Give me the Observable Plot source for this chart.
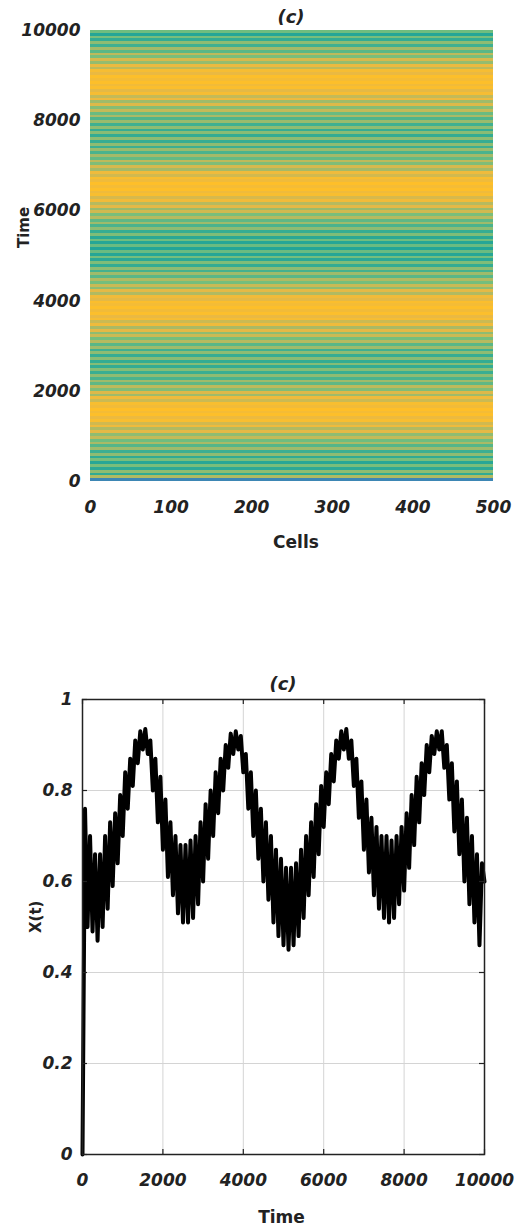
<!DOCTYPE html>
<html>
<head>
<meta charset="utf-8">
<script src="https://cdn.jsdelivr.net/npm/d3@7"></script>
<script src="https://cdn.jsdelivr.net/npm/@observablehq/plot@0.6"></script>
<style>
  html, body { margin: 0; padding: 0; background: #fff; }
  #page { position: relative; width: 515px; height: 1229px; overflow: hidden; background: #fff; }
  #page svg { position: absolute; left: 0; }
  .panel-title {
    position: absolute; width: 80px; text-align: center;
    font: italic bold 18px 'DejaVu Sans', sans-serif; color: #222; line-height: 20px;
  }
</style>
</head>
<body>
<div id="page"></div>
<script>
// Sampled time points of the population trajectory
const time = [
  0, 62.5, 125, 187.5, 250, 312.5, 375, 437.5,
  500, 562.5, 625, 687.5, 750, 812.5, 875, 937.5,
  1000, 1062.5, 1125, 1187.5, 1250, 1312.5, 1375, 1437.5,
  1500, 1562.5, 1625, 1687.5, 1750, 1812.5, 1875, 1937.5,
  2000, 2062.5, 2125, 2187.5, 2250, 2312.5, 2375, 2437.5,
  2500, 2562.5, 2625, 2687.5, 2750, 2812.5, 2875, 2937.5,
  3000, 3062.5, 3125, 3187.5, 3250, 3312.5, 3375, 3437.5,
  3500, 3562.5, 3625, 3687.5, 3750, 3812.5, 3875, 3937.5,
  4000, 4062.5, 4125, 4187.5, 4250, 4312.5, 4375, 4437.5,
  4500, 4562.5, 4625, 4687.5, 4750, 4812.5, 4875, 4937.5,
  5000, 5062.5, 5125, 5187.5, 5250, 5312.5, 5375, 5437.5,
  5500, 5562.5, 5625, 5687.5, 5750, 5812.5, 5875, 5937.5,
  6000, 6062.5, 6125, 6187.5, 6250, 6312.5, 6375, 6437.5,
  6500, 6562.5, 6625, 6687.5, 6750, 6812.5, 6875, 6937.5,
  7000, 7062.5, 7125, 7187.5, 7250, 7312.5, 7375, 7437.5,
  7500, 7562.5, 7625, 7687.5, 7750, 7812.5, 7875, 7937.5,
  8000, 8062.5, 8125, 8187.5, 8250, 8312.5, 8375, 8437.5,
  8500, 8562.5, 8625, 8687.5, 8750, 8812.5, 8875, 8937.5,
  9000, 9062.5, 9125, 9187.5, 9250, 9312.5, 9375, 9437.5,
  9500, 9562.5, 9625, 9687.5, 9750, 9812.5, 9875, 9937.5,
  10000
];

// Mean state X(t) at each sampled time
const xValues = [
  0.00, 0.76, 0.50, 0.70, 0.49, 0.66, 0.47, 0.66,
  0.50, 0.70, 0.54, 0.73, 0.59, 0.75, 0.64, 0.79,
  0.70, 0.84, 0.76, 0.87, 0.81, 0.91, 0.86, 0.93,
  0.89, 0.935, 0.88, 0.91, 0.80, 0.87, 0.73, 0.83,
  0.67, 0.78, 0.61, 0.73, 0.57, 0.70, 0.53, 0.68,
  0.51, 0.68, 0.51, 0.69, 0.52, 0.70, 0.55, 0.73,
  0.60, 0.77, 0.65, 0.80, 0.70, 0.84, 0.75, 0.87,
  0.80, 0.90, 0.85, 0.925, 0.88, 0.93, 0.89, 0.92,
  0.84, 0.88, 0.76, 0.84, 0.70, 0.80, 0.65, 0.76,
  0.60, 0.73, 0.56, 0.70, 0.51, 0.67, 0.48, 0.65,
  0.46, 0.63, 0.45, 0.63, 0.46, 0.64, 0.48, 0.67,
  0.52, 0.70, 0.57, 0.73, 0.61, 0.77, 0.66, 0.81,
  0.72, 0.84, 0.77, 0.88, 0.82, 0.91, 0.87, 0.93,
  0.89, 0.935, 0.87, 0.91, 0.81, 0.87, 0.74, 0.82,
  0.67, 0.78, 0.62, 0.74, 0.57, 0.72, 0.54, 0.70,
  0.52, 0.70, 0.51, 0.69, 0.52, 0.70, 0.55, 0.72,
  0.58, 0.75, 0.63, 0.79, 0.68, 0.83, 0.73, 0.86,
  0.79, 0.90, 0.84, 0.92, 0.88, 0.93, 0.89, 0.93,
  0.85, 0.90, 0.78, 0.86, 0.71, 0.82, 0.66, 0.78,
  0.60, 0.74, 0.55, 0.70, 0.51, 0.66, 0.46, 0.64,
  0.60
];

const cellRange = [0, 500];
const cellTicks = [0, 100, 200, 300, 400, 500];
const timeTicks = [0, 2000, 4000, 6000, 8000, 10000];
const stateTicks = [0, 0.2, 0.4, 0.6, 0.8, 1];
const panelTitle = "(c)";

// Colormap stops for the space-time heatmap
const colorDomain = [0, 0.45, 0.55, 0.65, 0.75, 0.85, 0.93];
const colorRange = ["#3d86b4", "#22a597", "#3fb091", "#74be7d", "#a9ba66", "#eab942", "#fdbf2a"];

const rows = time.slice(0, -1).map((t, i) => ({t0: t, t1: time[i + 1], v: xValues[i]}));
const series = time.map((t, i) => ({t, v: xValues[i]}));

const baseFont = {
  fontFamily: "'DejaVu Sans', sans-serif",
  fontSize: "17px",
  fontWeight: "bold",
  fontStyle: "italic",
  color: "#222",
  background: "transparent",
  overflow: "visible"
};

// Space-time heatmap: every cell shares the same state in each time row
const heat = Plot.plot({
  width: 515,
  height: 560,
  marginTop: 30,
  marginBottom: 79,
  marginLeft: 90,
  marginRight: 22,
  style: baseFont,
  x: {domain: cellRange},
  y: {domain: [timeTicks[0], timeTicks[timeTicks.length - 1]]},
  color: {type: "linear", domain: colorDomain, range: colorRange},
  marks: [
    Plot.rect(rows, {x1: cellRange[0], x2: cellRange[1], y1: "t0", y2: "t1", fill: "v", shapeRendering: "crispEdges"}),
    Plot.axisX(cellTicks, {tickSize: 0, tickPadding: 19, label: null, tickFormat: "d"}),
    Plot.axisY(timeTicks, {tickSize: 0, tickPadding: 10, label: null, tickFormat: "d"}),
    Plot.text(["Cells"], {frameAnchor: "bottom", dy: 66, dx: 4, text: d => d, fontStyle: "normal"}),
    Plot.text(["Time"], {frameAnchor: "left", dx: -66, dy: -8, rotate: -90, text: d => d, fontStyle: "normal", fontSize: 15})
  ]
});
heat.style.top = "0px";

// Time series of X(t)
const frameW = 515 - 82 - 31;
const frameH = 589 - 59 - 75;
const inner = 5;
const line = Plot.plot({
  width: 515,
  height: 589,
  marginTop: 59,
  marginBottom: 75,
  marginLeft: 82,
  marginRight: 31,
  style: baseFont,
  x: {domain: [timeTicks[0], timeTicks[timeTicks.length - 1]]},
  y: {domain: [stateTicks[0], stateTicks[stateTicks.length - 1]]},
  marks: [
    Plot.ruleX(timeTicks, {stroke: "#d4d4d4", strokeWidth: 1}),
    Plot.ruleY(stateTicks, {stroke: "#d4d4d4", strokeWidth: 1}),
    Plot.line(series, {x: "t", y: "v", stroke: "black", strokeWidth: 4, strokeLinejoin: "round"}),
    Plot.frame({stroke: "#222", strokeWidth: 1.5}),
    Plot.ruleX(timeTicks, {stroke: "#222", strokeWidth: 1.2, insetBottom: frameH - inner}),
    Plot.ruleX(timeTicks, {stroke: "#222", strokeWidth: 1.2, insetTop: frameH - inner}),
    Plot.ruleY(stateTicks, {stroke: "#222", strokeWidth: 1.2, insetRight: frameW - inner}),
    Plot.ruleY(stateTicks, {stroke: "#222", strokeWidth: 1.2, insetLeft: frameW - inner}),
    Plot.axisX(timeTicks, {tickSize: 0, tickPadding: 19, label: null, tickFormat: "d"}),
    Plot.axisY(stateTicks, {tickSize: 0, tickPadding: 10, label: null, tickFormat: d => String(d)}),
    Plot.text(["Time"], {frameAnchor: "bottom", dy: 68, dx: -2, text: d => d, fontStyle: "normal"}),
    Plot.text(["X(t)"], {frameAnchor: "left", dx: -46, dy: 6, rotate: -90, text: d => d, fontStyle: "normal", fontSize: 15})
  ]
});
line.style.top = "640px";

const page = document.getElementById("page");
page.appendChild(heat);
page.appendChild(line);

// Panel labels above each plot
function addTitle(text, centerX, centerY) {
  const div = document.createElement("div");
  div.className = "panel-title";
  div.textContent = text;
  div.style.left = (centerX - 40) + "px";
  div.style.top = (centerY - 10) + "px";
  page.appendChild(div);
}
addTitle(panelTitle, 291, 17);
addTitle(panelTitle, 283, 684);
</script>
</body>
</html>
